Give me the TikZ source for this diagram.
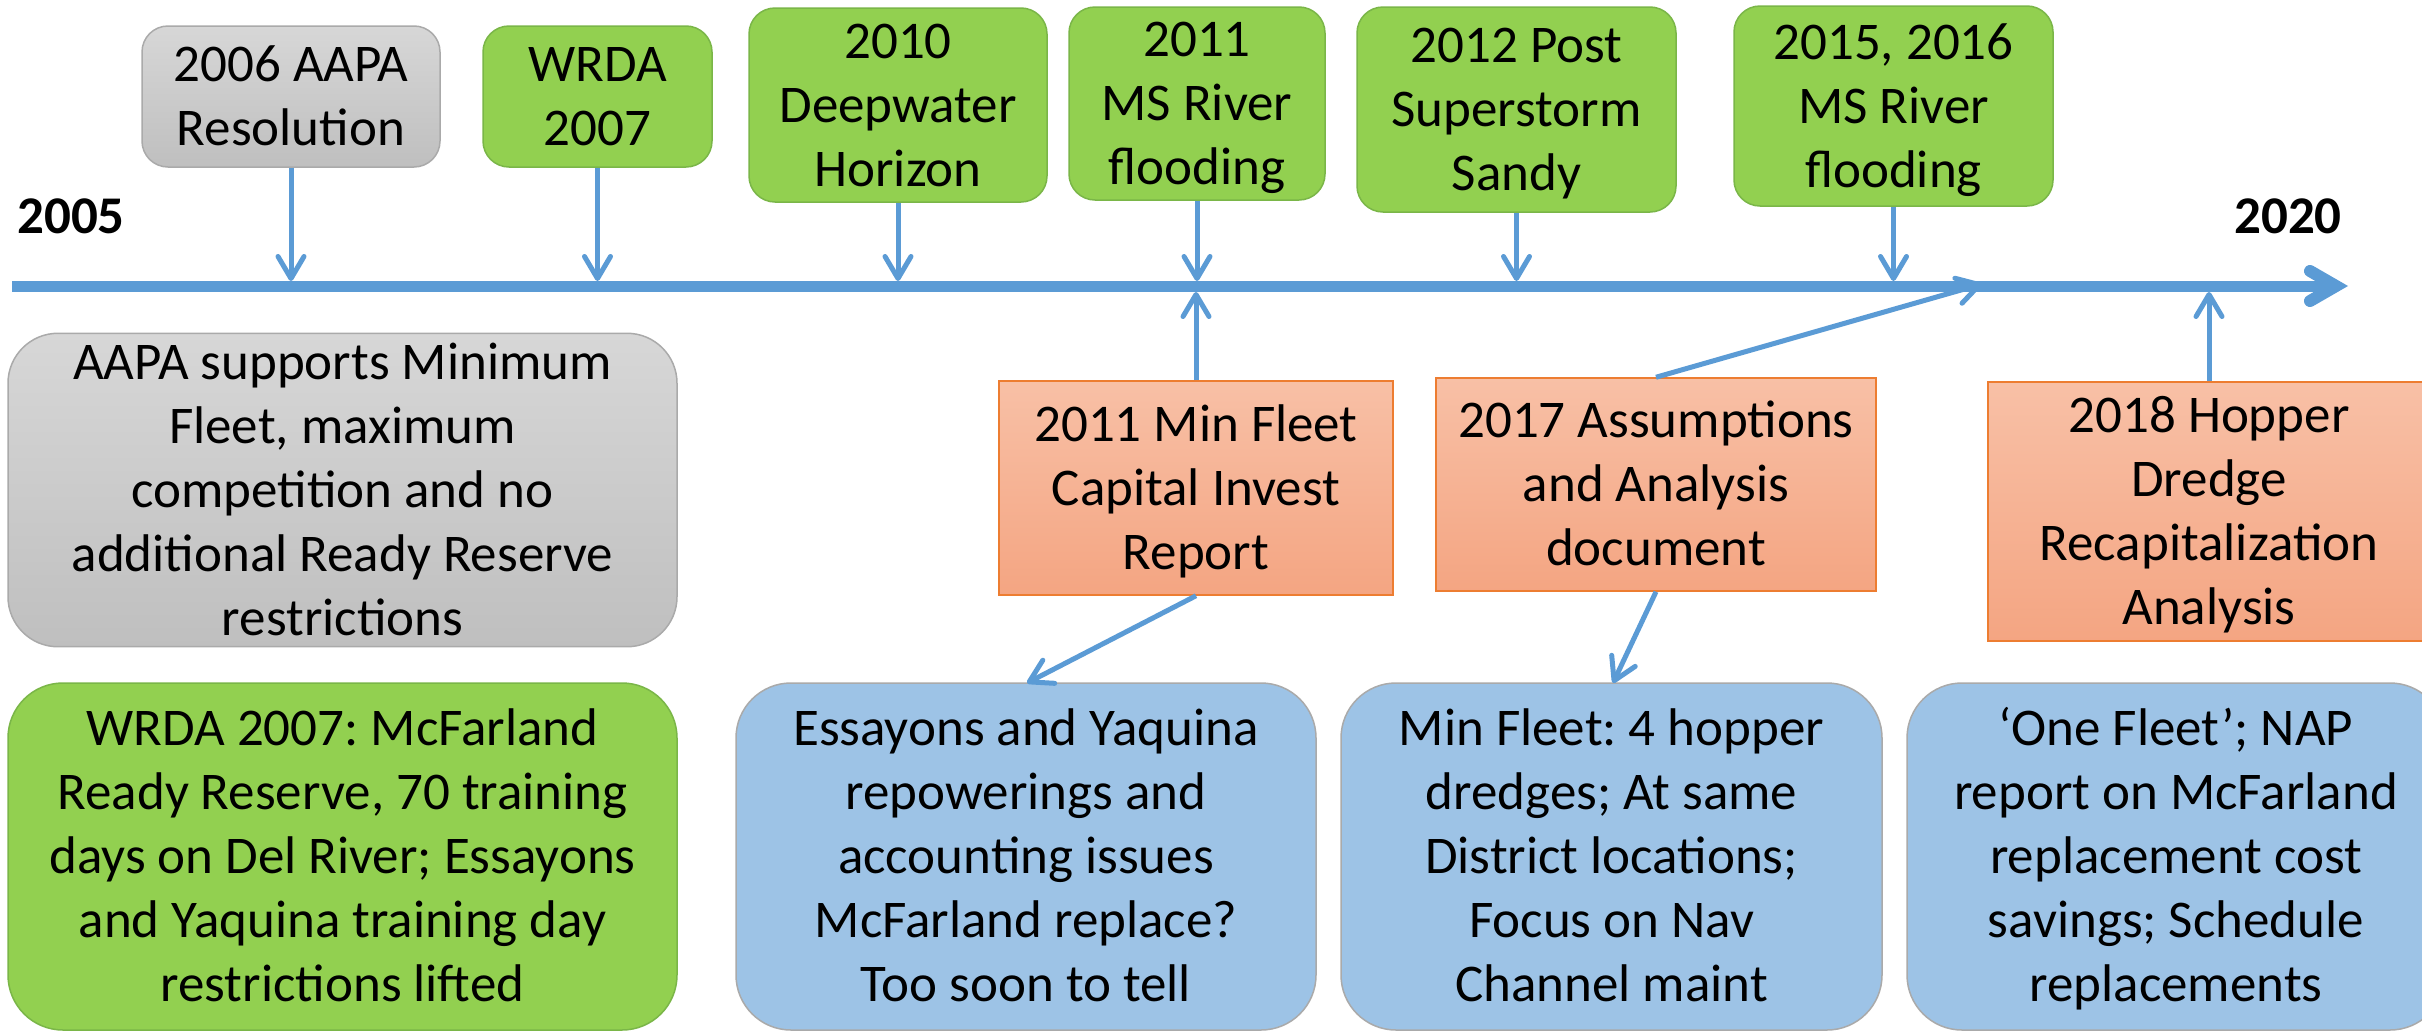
\documentclass[tikz,border=0pt]{standalone}
\usepackage{fontspec}
\setmainfont{Carlito}
\usetikzlibrary{arrows.meta}
\definecolor{tl}{RGB}{91,155,213}
\definecolor{grn}{RGB}{146,208,80}
\definecolor{grnB}{RGB}{122,182,72}
\definecolor{blu}{RGB}{157,195,230}
\definecolor{bluB}{RGB}{170,170,170}
\definecolor{orT}{RGB}{248,192,166}
\definecolor{orB}{RGB}{244,165,130}
\definecolor{orL}{RGB}{237,125,49}
\definecolor{gyT}{RGB}{215,215,215}
\definecolor{gyB}{RGB}{191,191,191}
\definecolor{gyL}{RGB}{170,170,170}
\newcommand\bs{\rule[-0.22em]{0pt}{1.084em}}
\frenchspacing
\begin{document}
\begin{tikzpicture}[x=1pt,y=-1pt,
  txt/.style={font=\fontsize{53}{64}\selectfont, align=center, inner sep=0pt},
  box/.style={txt, draw, line width=1.5pt},
  topbox/.style={box, rounded corners=26pt},
  bigbox/.style={box, rounded corners=55pt},
  graybox/.style={top color=gyT, bottom color=gyB, draw=gyL},
  greenbox/.style={fill=grn, draw=grnB},
  bluebox/.style={fill=blu, draw=bluB},
  orangebox/.style={box, top color=orT, bottom color=orB, draw=orL},
  conn/.style={draw=tl, line width=5pt, -{Straight Barb[length=22pt,width=26pt,round]}},
  year/.style={font=\fontsize{53}{64}\selectfont\bfseries, anchor=base, inner sep=0pt}
  ]
\useasboundingbox (0,0) rectangle (2422,1031);
\fill[white] (0,0) rectangle (2422,1031);

% timeline
\coordinate (tlS) at (12,286);
\coordinate (tlE) at (2333,286);
\coordinate (ttop) at (0,281);
\coordinate (tbot) at (0,292);
\draw[tl, line width=11pt] (tlS) -- (tlE);
\coordinate (chA) at (2310,271);
\coordinate (chV) at (2336,286);
\coordinate (chB) at (2310,301);
\draw[tl, line width=12pt, line cap=round, line join=miter] (chA) -- (chV) -- (chB);

\node[year] (y05) at (71,233) {2005};
\node[year] (y20) at (2288,233) {2020};

% top boxes
\node[topbox, graybox, minimum width=298pt, minimum height=141pt] (aapa06) at (291,96.5) {\bs 2006 AAPA\\Resolution\bs};
\node[topbox, greenbox, minimum width=229pt, minimum height=141pt] (wrda07) at (597.5,96.5) {\bs WRDA\\2007\bs};
\node[topbox, greenbox, minimum width=298pt, minimum height=194pt] (dwh) at (898,105) {\bs 2010\\Deepwater\\Horizon\bs};
\node[topbox, greenbox, minimum width=256pt, minimum height=193pt] (ms11) at (1197,103.5) {\bs 2011\\MS River\\flooding\bs};
\node[topbox, greenbox, minimum width=319pt, minimum height=205pt] (sandy) at (1516.5,109.5) {\bs 2012 Post\\Superstorm\\Sandy\bs};
\node[topbox, greenbox, minimum width=319pt, minimum height=200pt] (ms15) at (1893.5,106) {\bs 2015, 2016\\MS River\\flooding\bs};

% middle row
\node[bigbox, graybox, rounded corners=50pt, minimum width=669pt, minimum height=312pt] (aapaS) at (342.5,490) {\bs AAPA supports Minimum\\Fleet, maximum\\competition and no\\additional Ready Reserve\\restrictions\bs};
\node[orangebox, minimum width=394pt, minimum height=214pt] (mf11) at (1196,488) {\bs 2011 Min Fleet\\Capital Invest\\Report\bs};
\node[orangebox, minimum width=440pt, minimum height=213pt] (aa17) at (1656,484.5) {\bs 2017 Assumptions\\and Analysis\\document\bs};
\node[orangebox, minimum width=442pt, minimum height=259pt] (hd18) at (2209,511.5) {\bs 2018 Hopper\\Dredge\\Recapitalization\\Analysis\bs};

% bottom row
\node[bigbox, greenbox, minimum width=669pt, minimum height=347pt] (wrdaB) at (342.5,856.5) {\bs WRDA 2007: McFarland\\Ready Reserve, 70 training\\days on Del River; Essayons\\and Yaquina training day\\restrictions lifted\bs};
\node[bigbox, bluebox, minimum width=580pt, minimum height=347pt] (essB) at (1026,856.5) {\bs Essayons and Yaquina\\repowerings and\\accounting issues\\McFarland replace?\\Too soon to tell\bs};
\node[bigbox, bluebox, minimum width=541pt, minimum height=347pt] (minB) at (1611.5,856.5) {\bs Min Fleet: 4 hopper\\dredges; At same\\District locations;\\Focus on Nav\\Channel maint\bs};
\node[bigbox, bluebox, minimum width=538pt, minimum height=347pt] (oneB) at (2176,856.5) {\bs ‘One Fleet’; NAP\\report on McFarland\\replacement cost\\savings; Schedule\\replacements\bs};

% connectors
\draw[conn] (aapa06.south) -- (aapa06.south |- ttop);
\draw[conn] (wrda07.south) -- (wrda07.south |- ttop);
\draw[conn] (dwh.south) -- (dwh.south |- ttop);
\draw[conn] (ms11.south) -- (ms11.south |- ttop);
\draw[conn] (sandy.south) -- (sandy.south |- ttop);
\draw[conn] (ms15.south) -- (ms15.south |- ttop);
\draw[conn] (mf11.north) -- (mf11.north |- tbot);
\draw[conn] (hd18.north) -- (hd18.north |- tbot);
\coordinate (a17t) at (1982,284);
\draw[conn] (aa17.north) -- (a17t);
\coordinate (essIn) at (1027,683);
\draw[conn] (mf11.south) -- (essIn);
\coordinate (minIn) at (1613,683);
\draw[conn] (aa17.south) -- (minIn);
\end{tikzpicture}
\end{document}
